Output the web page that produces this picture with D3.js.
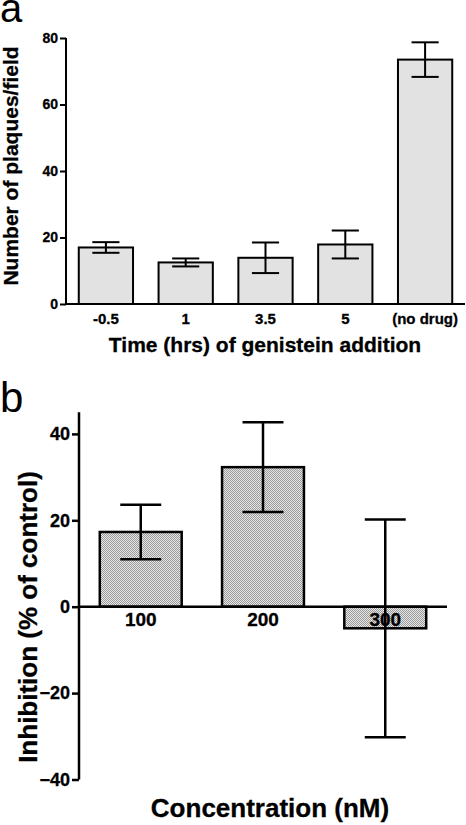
<!DOCTYPE html>
<html><head><meta charset="utf-8">
<script src="https://cdn.jsdelivr.net/npm/d3@7"></script>
<style>html,body{margin:0;padding:0;background:#fff;}svg{display:block;font-family:"Liberation Sans",Arial,sans-serif;}</style>
</head><body>
<script>
// Panel a data
const catsA = ["-0.5", "1", "3.5", "5", "(no drug)"];
const valsA = [17.0, 12.5, 13.9, 17.9, 73.5];
const errA  = [1.6, 1.2, 4.6, 4.2, 5.2];
const ticksA = [0, 20, 40, 60, 80];
// Panel b data
const catsB = ["100", "200", "300"];
const valsB = [17.3, 32.3, -5.0];
const errB  = [6.3, 10.4, 25.2];
const ticksB = [-40, -20, 0, 20, 40];

const W = 466, H = 825;
const svg = d3.select("body").append("svg").attr("width", W).attr("height", H);

const defs = svg.append("defs");
const pat = defs.append("pattern").attr("id","dots").attr("patternUnits","userSpaceOnUse")
  .attr("width",2).attr("height",2);
pat.append("rect").attr("width",2).attr("height",2).attr("fill","#e6e6e6");
pat.append("rect").attr("x",0).attr("y",0).attr("width",1).attr("height",1).attr("fill","#9a9a9a");
pat.append("rect").attr("x",1).attr("y",1).attr("width",1).attr("height",1).attr("fill","#9a9a9a");

const FONT = "Liberation Sans, Arial, sans-serif";

// ---------- Panel a ----------
const xA = d3.scaleBand().domain(catsA).range([66, 465]).paddingInner(0.32).paddingOuter(0.16);
const yA = d3.scaleLinear().domain([0, 80]).range([304, 38]);
const gA = svg.append("g");

gA.selectAll("rect.bar").data(catsA).join("rect").attr("class","bar")
  .attr("x", d => xA(d)).attr("width", xA.bandwidth())
  .attr("y", (d,i) => yA(valsA[i])).attr("height", (d,i) => yA(0) - yA(valsA[i]))
  .attr("fill", "#e2e2e2").attr("stroke", "#000").attr("stroke-width", 2);

const ebA = gA.selectAll("g.eb").data(catsA).join("g").attr("class","eb");
ebA.append("line").attr("x1", d => xA(d)+xA.bandwidth()/2).attr("x2", d => xA(d)+xA.bandwidth()/2)
  .attr("y1", (d,i) => yA(valsA[i]+errA[i])).attr("y2", (d,i) => yA(valsA[i]-errA[i]));
ebA.append("line").attr("x1", d => xA(d)+xA.bandwidth()/4).attr("x2", d => xA(d)+3*xA.bandwidth()/4)
  .attr("y1", (d,i) => yA(valsA[i]+errA[i])).attr("y2", (d,i) => yA(valsA[i]+errA[i]));
ebA.append("line").attr("x1", d => xA(d)+xA.bandwidth()/4).attr("x2", d => xA(d)+3*xA.bandwidth()/4)
  .attr("y1", (d,i) => yA(valsA[i]-errA[i])).attr("y2", (d,i) => yA(valsA[i]-errA[i]));
ebA.selectAll("line").attr("stroke","#000").attr("stroke-width",2);

const axYA = gA.append("g").attr("transform","translate(66,0)")
  .call(d3.axisLeft(yA).tickValues(ticksA).tickSize(6).tickPadding(2).tickFormat(d3.format("d")));
axYA.select(".domain").attr("stroke-width",2).attr("d", `M0,${yA(80)}V${yA(0)}`);
axYA.selectAll(".tick line").attr("stroke-width",2);
axYA.selectAll(".tick text").attr("font-size",14).attr("font-weight","bold").attr("fill","#000")
  .attr("font-family",FONT).attr("stroke","#000").attr("stroke-width",0.3);

const axXA = gA.append("g").attr("transform",`translate(0,${yA(0)})`)
  .call(d3.axisBottom(xA).tickSize(0).tickPadding(9));
axXA.select(".domain").attr("stroke-width",2).attr("d", `M66,0H465`);
axXA.selectAll(".tick text").attr("font-size",15).attr("font-weight","bold").attr("fill","#000")
  .attr("font-family",FONT).attr("stroke","#000").attr("stroke-width",0.3);

gA.append("text").attr("x",265).attr("y",352).attr("text-anchor","middle")
  .attr("font-size",21).attr("font-weight","bold").attr("stroke","#000").attr("stroke-width",0.3)
  .text("Time (hrs) of genistein addition");
gA.append("text").attr("transform","translate(18,166) rotate(-90)").attr("text-anchor","middle")
  .attr("font-size",21).attr("font-weight","bold").attr("stroke","#000").attr("stroke-width",0.3)
  .text("Number of plaques/field");
svg.append("text").attr("x",0).attr("y",22).attr("font-size",40).text("a");

// ---------- Panel b ----------
const xB = d3.scaleBand().domain(catsB).range([79, 447]).paddingInner(0.33).paddingOuter(0.17);
const yB = d3.scaleLinear().domain([-40, 45]).range([779.5, 412.3]);
const gB = svg.append("g");

gB.selectAll("rect.bar").data(catsB).join("rect").attr("class","bar")
  .attr("x", d => xB(d)).attr("width", xB.bandwidth())
  .attr("y", (d,i) => Math.min(yB(valsB[i]), yB(0)))
  .attr("height", (d,i) => Math.abs(yB(0) - yB(valsB[i])))
  .attr("fill", "url(#dots)").attr("stroke", "#000").attr("stroke-width", 2.5);

const axXB = gB.append("g").attr("transform",`translate(0,${yB(0)})`)
  .call(d3.axisBottom(xB).tickSize(0).tickPadding(6));
axXB.select(".domain").attr("stroke-width",2.5).attr("d", `M79,0H447`);
axXB.selectAll(".tick text").attr("font-size",19).attr("font-weight","bold").attr("fill","#000")
  .attr("font-family",FONT).attr("stroke","#000").attr("stroke-width",0.3);

const ebB = gB.selectAll("g.eb").data(catsB).join("g").attr("class","eb");
ebB.append("line").attr("x1", d => xB(d)+xB.bandwidth()/2).attr("x2", d => xB(d)+xB.bandwidth()/2)
  .attr("y1", (d,i) => yB(valsB[i]+errB[i])).attr("y2", (d,i) => yB(valsB[i]-errB[i]));
ebB.append("line").attr("x1", d => xB(d)+xB.bandwidth()/4).attr("x2", d => xB(d)+3*xB.bandwidth()/4)
  .attr("y1", (d,i) => yB(valsB[i]+errB[i])).attr("y2", (d,i) => yB(valsB[i]+errB[i]));
ebB.append("line").attr("x1", d => xB(d)+xB.bandwidth()/4).attr("x2", d => xB(d)+3*xB.bandwidth()/4)
  .attr("y1", (d,i) => yB(valsB[i]-errB[i])).attr("y2", (d,i) => yB(valsB[i]-errB[i]));
ebB.selectAll("line").attr("stroke","#000").attr("stroke-width",2.5);

const axYB = gB.append("g").attr("transform","translate(79,0)")
  .call(d3.axisLeft(yB).tickValues(ticksB).tickSize(7).tickPadding(2).tickFormat(d3.format("d")));
axYB.select(".domain").attr("stroke-width",2.5).attr("d", `M0,${yB(45)}V${yB(-40)}`);
axYB.selectAll(".tick line").attr("stroke-width",2.5);
axYB.selectAll(".tick text").attr("font-size",18).attr("font-weight","bold").attr("fill","#000")
  .attr("font-family",FONT).attr("stroke","#000").attr("stroke-width",0.3);

gB.append("text").attr("x",270).attr("y",817).attr("text-anchor","middle")
  .attr("font-size",26).attr("font-weight","bold").attr("stroke","#000").attr("stroke-width",0.3)
  .text("Concentration (nM)");
gB.append("text").attr("transform","translate(37,617) rotate(-90)").attr("text-anchor","middle")
  .attr("font-size",26).attr("font-weight","bold").attr("stroke","#000").attr("stroke-width",0.3)
  .text("Inhibition (% of control)");
svg.append("text").attr("x",0).attr("y",412).attr("font-size",42).text("b");
</script>
</body></html>
